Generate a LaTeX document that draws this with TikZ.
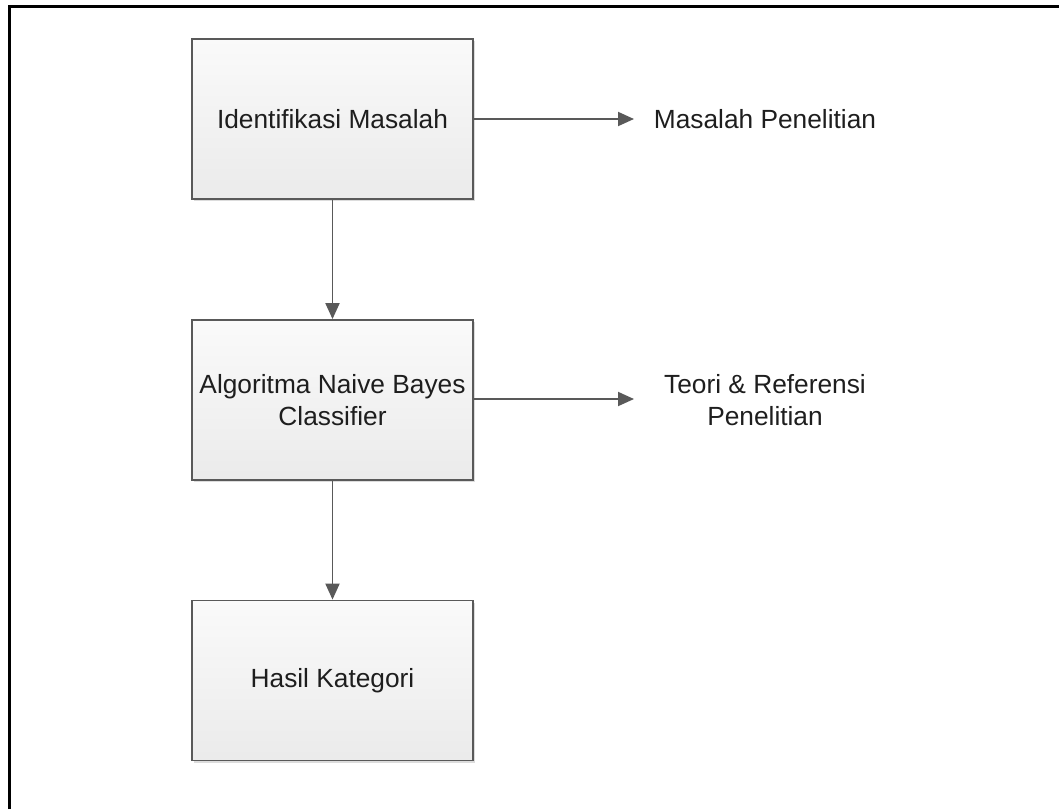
\documentclass[tikz,border=0pt]{standalone}
\usepackage{fontspec}
\setmainfont{Liberation Sans}
\usetikzlibrary{arrows.meta,shadows}
\definecolor{edgegray}{HTML}{595959}
\definecolor{inkgray}{HTML}{1E1E1E}
\begin{document}
\begin{tikzpicture}[x=1pt,y=-1pt,
  stepbox/.style={draw=edgegray,line width=1.8pt,rectangle,
    minimum width=281pt,minimum height=160pt,inner sep=0pt,
    top color=white!98!black,bottom color=white!92!black,
    drop shadow={shadow xshift=2pt,shadow yshift=-2pt,fill=black!30,opacity=0.45},
    align=center,text=inkgray,font=\fontsize{26.3}{32}\selectfont},
  outlabel/.style={align=center,text=inkgray,inner sep=0pt,
    font=\fontsize{26.3}{32}\selectfont},
  flow/.style={draw=edgegray,line width=1.9pt,
    -{Triangle[length=16pt,width=14pt]}}]
  \useasboundingbox (0,0) rectangle (1059,809);
  % page frame (top and left edges)
  \draw[line width=2.2pt,black] (9.5,809) -- (9.5,6.5) -- (1059,6.5);

  % process steps
  \node[stepbox] (s1) at (332.5,119) {Identifikasi Masalah};
  \node[stepbox] (s2) at (332.5,400) {Algoritma Naive Bayes\\Classifier};
  \node[stepbox] (s3) at (332.5,680.5) {Hasil Kategori};

  % outputs
  \node[outlabel] (o1) at (765,119) {Masalah Penelitian};
  \node[outlabel] (o2) at (765,400) {Teori \& Referensi\\Penelitian};
  \coordinate (e1) at (634,119);
  \coordinate (e2) at (634,399);

  % connectors
  \draw[flow] (s1.south) -- (s2.north);
  \draw[flow] (s2.south) -- (s3.north);
  \draw[flow] (s1.east) -- (e1);
  \draw[flow] (s2.east |- e2) -- (e2);
\end{tikzpicture}
\end{document}
